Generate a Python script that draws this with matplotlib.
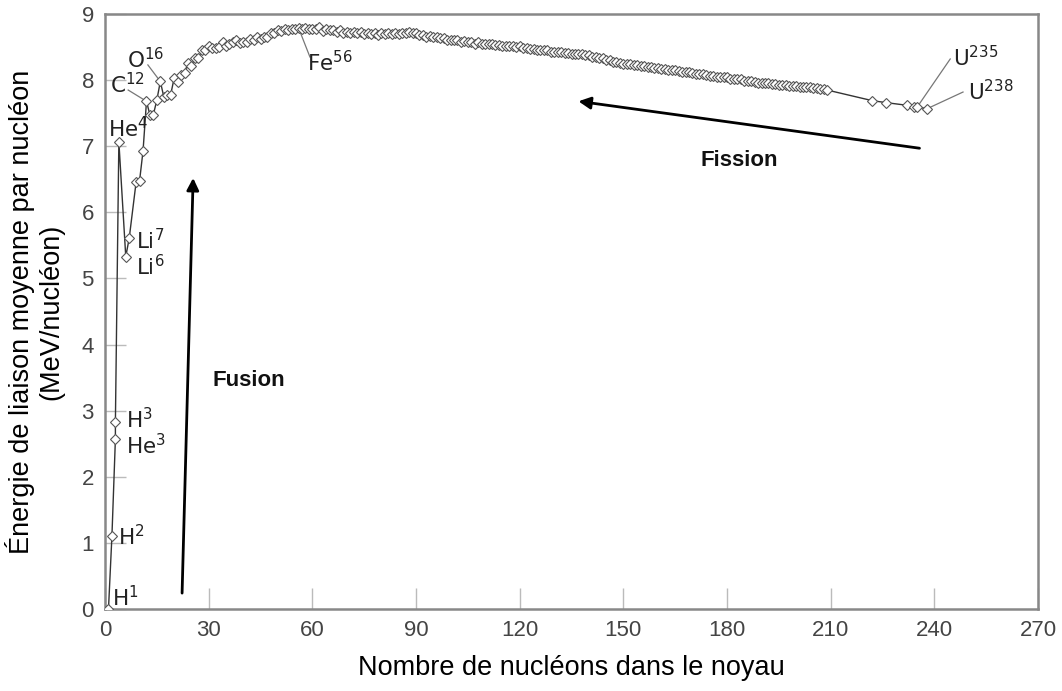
import matplotlib
matplotlib.use('Agg')
import matplotlib.pyplot as plt

# mass number A and binding energy per nucleon (MeV)
mass_numbers = [1, 2, 3, 3, 4, 6, 7, 9, 10, 11, 12, 13, 14, 15, 16, 17, 18, 19,
                20, 21, 22, 23, 24, 25, 26, 27, 28, 29, 30, 31, 32, 33, 34, 35,
                36, 37, 38, 39, 40, 41, 42, 43, 44, 45, 46, 47, 48, 49, 50, 51,
                52, 53, 54, 55, 56, 57, 58, 59, 60, 61, 62, 63, 64, 65, 66, 67,
                68, 69, 70, 71, 72, 73, 74, 75, 76, 77, 78, 79, 80, 81, 82, 83,
                84, 85, 86, 87, 88, 89, 90, 91, 92, 93, 94, 95, 96, 97, 98, 99,
                100, 101, 102, 103, 104, 105, 106, 107, 108, 109, 110, 111, 112,
                113, 114, 115, 116, 117, 118, 119, 120, 121, 122, 123, 124, 125,
                126, 127, 128, 129, 130, 131, 132, 133, 134, 135, 136, 137, 138,
                139, 140, 141, 142, 143, 144, 145, 146, 147, 148, 149, 150, 151,
                152, 153, 154, 155, 156, 157, 158, 159, 160, 161, 162, 163, 164,
                165, 166, 167, 168, 169, 170, 171, 172, 173, 174, 175, 176, 177,
                178, 179, 180, 181, 182, 183, 184, 185, 186, 187, 188, 189, 190,
                191, 192, 193, 194, 195, 196, 197, 198, 199, 200, 201, 202, 203,
                204, 205, 206, 207, 208, 209, 222, 226, 232, 234, 235, 238]
binding_energy = [0.00, 1.11, 2.57, 2.83, 7.07, 5.33, 5.61, 6.46, 6.48, 6.93,
                  7.68, 7.47, 7.48, 7.70, 7.98, 7.75, 7.77, 7.78, 8.03, 7.97,
                  8.08, 8.11, 8.26, 8.22, 8.33, 8.33, 8.45, 8.45, 8.52, 8.48,
                  8.49, 8.50, 8.58, 8.52, 8.55, 8.57, 8.61, 8.56, 8.57, 8.58,
                  8.62, 8.60, 8.66, 8.62, 8.66, 8.66, 8.72, 8.71, 8.76, 8.74,
                  8.78, 8.76, 8.78, 8.77, 8.79, 8.77, 8.79, 8.77, 8.78, 8.77,
                  8.80, 8.75, 8.78, 8.76, 8.76, 8.73, 8.76, 8.72, 8.73, 8.72,
                  8.73, 8.71, 8.73, 8.70, 8.71, 8.70, 8.72, 8.69, 8.71, 8.70,
                  8.71, 8.70, 8.72, 8.70, 8.71, 8.71, 8.73, 8.71, 8.71, 8.69,
                  8.69, 8.66, 8.67, 8.65, 8.65, 8.64, 8.64, 8.61, 8.61, 8.60,
                  8.61, 8.58, 8.59, 8.57, 8.58, 8.55, 8.57, 8.55, 8.55, 8.54,
                  8.55, 8.53, 8.53, 8.52, 8.52, 8.51, 8.52, 8.50, 8.51, 8.48,
                  8.49, 8.47, 8.47, 8.46, 8.46, 8.45, 8.45, 8.43, 8.43, 8.42,
                  8.43, 8.41, 8.41, 8.40, 8.40, 8.39, 8.39, 8.38, 8.38, 8.35,
                  8.35, 8.33, 8.33, 8.31, 8.30, 8.28, 8.28, 8.26, 8.25, 8.24,
                  8.24, 8.23, 8.23, 8.21, 8.22, 8.20, 8.20, 8.19, 8.18, 8.17,
                  8.17, 8.16, 8.16, 8.15, 8.14, 8.13, 8.13, 8.12, 8.11, 8.10,
                  8.10, 8.09, 8.08, 8.07, 8.06, 8.05, 8.05, 8.04, 8.04, 8.02,
                  8.02, 8.01, 8.01, 7.99, 7.99, 7.98, 7.97, 7.96, 7.96, 7.95,
                  7.95, 7.94, 7.94, 7.93, 7.93, 7.92, 7.91, 7.91, 7.91, 7.90,
                  7.90, 7.89, 7.89, 7.88, 7.88, 7.87, 7.87, 7.85, 7.69, 7.66,
                  7.62, 7.60, 7.59, 7.57]

# labelled nuclides: (text, marker A, marker E, text A, text E)
labels = [
    ('H$^{1}$', None, None, 2.0, 0.17),
    ('H$^{2}$', None, None, 3.8, 1.09),
    ('H$^{3}$', None, None, 6.1, 2.86),
    ('He$^{3}$', None, None, 6.1, 2.47),
    ('He$^{4}$', None, None, 0.9, 7.27),
    ('Li$^{7}$', None, None, 9.0, 5.58),
    ('Li$^{6}$', None, None, 9.0, 5.18),
    ('C$^{12}$', 12, 7.68, 1.4, 7.93),
    ('O$^{16}$', 16, 7.98, 6.4, 8.31),
    ('Fe$^{56}$', 56, 8.79, 58.5, 8.27),
    ('U$^{235}$', 235, 7.59, 245.4, 8.34),
    ('U$^{238}$', 238, 7.57, 249.8, 7.82),
]
leader_starts = {'C$^{12}$': (6.7, 7.85), 'O$^{16}$': (12.4, 8.23),
                 'Fe$^{56}$': (59.3, 8.35), 'U$^{235}$': (244.6, 8.32),
                 'U$^{238}$': (248.3, 7.82)}

fig = plt.figure(figsize=(10.62, 6.91), dpi=100)
ax = fig.add_axes([0.0989, 0.1187, 0.8785, 0.861])

ax.plot(mass_numbers, binding_energy, color='#333333', lw=1.0,
        marker='D', markersize=5, markerfacecolor='white',
        markeredgecolor='#555555', markeredgewidth=0.8, zorder=3)

for text, mx, my, tx, ty in labels:
    ax.text(tx, ty, text, fontsize=15.5, color='#222222', ha='left',
            va='center', family='DejaVu Sans', zorder=4)
    if mx is not None:
        sx, sy = leader_starts[text]
        ax.plot([sx, mx], [sy, my], color='#777777', lw=0.9, zorder=2)

# arrows
ax.annotate('', xy=(25.5, 6.52), xytext=(22.3, 0.24),
            arrowprops=dict(arrowstyle='-|>', lw=2.0, color='black',
                            mutation_scale=18, shrinkA=0, shrinkB=0))
ax.annotate('', xy=(137, 7.68), xytext=(235.7, 6.97),
            arrowprops=dict(arrowstyle='-|>', lw=2.0, color='black',
                            mutation_scale=18, shrinkA=0, shrinkB=0))
ax.text(41.5, 3.45, 'Fusion', fontsize=16, fontweight='bold',
        family='Liberation Sans', ha='center', va='center', color='#111111')
ax.text(183.5, 6.79, 'Fission', fontsize=16, fontweight='bold',
        family='Liberation Sans', ha='center', va='center', color='#111111')

ax.set_xlim(0, 270)
ax.set_ylim(0, 9)
ax.set_xticks(range(0, 271, 30))
ax.set_yticks(range(0, 10))
ax.tick_params(direction='in', length=15, width=1, color='#bbbbbb',
               labelsize=16, labelcolor='#444444', pad=8)
for lab in ax.get_xticklabels() + ax.get_yticklabels():
    lab.set_family('Liberation Sans')
for sp in ax.spines.values():
    sp.set_color('#888888')
    sp.set_linewidth(1.8)

ax.set_xlabel('Nombre de nucléons dans le noyau', fontsize=19.5,
              family='Liberation Sans', labelpad=10)
ax.set_ylabel('Énergie de liaison moyenne par nucléon\n(MeV/nucléon)',
              fontsize=19.5, family='Liberation Sans', labelpad=12)

fig.savefig('out.png', dpi=100)
